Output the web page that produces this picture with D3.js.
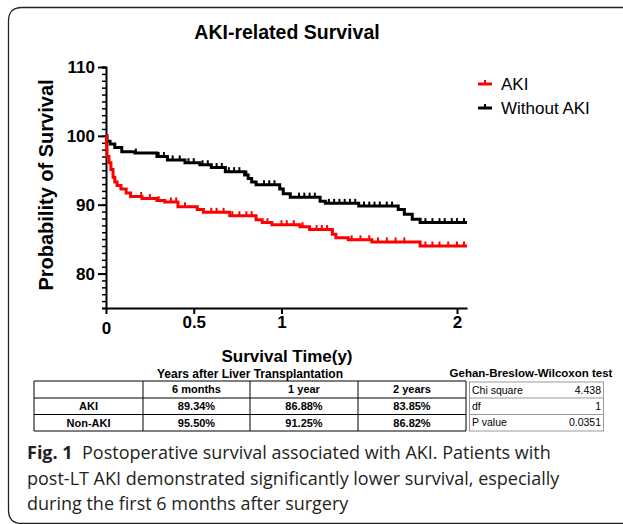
<!DOCTYPE html>
<html lang="en">
<head>
<meta charset="UTF-8">
<title>AKI-related Survival</title>
<script src="https://d3js.org/d3.v7.min.js"></script>
<style>
  body { margin: 0; background: #fff; }
  svg text { font-family: "Liberation Sans", Arial, sans-serif; }
</style>
</head>
<body>
<svg id="main" width="623" height="524"></svg>
<script>
// Kaplan-Meier steps: [years, % surviving]
let akiSteps = [[0,100],[0.003,98.5],[0.006,97],[0.017,96.1],[0.028,95.1],[0.04,94],[0.05,93.3],[0.063,92.8],
  [0.085,92.3],[0.115,91.7],[0.14,91.2],[0.205,90.9],[0.29,90.6],[0.335,90.4],[0.41,89.7],[0.52,89.3],
  [0.555,88.9],[0.705,88.4],[0.855,87.8],[0.89,87.4],[0.945,87.1],[1.105,86.8],[1.16,86.4],[1.29,85.7],
  [1.31,85.2],[1.38,84.9],[1.515,84.6],[1.79,84],[2.057,84]];
let nonAkiSteps = [[0,100],[0.006,99.2],[0.023,98.8],[0.05,98.3],[0.09,97.7],[0.165,97.5],[0.29,97],[0.35,96.5],
  [0.45,96.1],[0.535,95.8],[0.6,95.4],[0.68,94.8],[0.79,94.3],[0.81,93.8],[0.83,93.3],[0.855,92.9],[0.99,92.3],
  [1.01,91.6],[1.05,91.1],[1.22,90.5],[1.25,90.2],[1.44,89.8],[1.665,89.3],[1.7,88.6],[1.745,87.9],[1.79,87.4],[2.057,87.4]];
// censored observations (tick marks)
let akiCensor = [0.2,0.25,0.3,0.37,0.4,0.45,0.6,0.63,0.67,0.72,0.76,0.8,0.83,0.92,1.0,1.03,1.07,1.12,1.2,1.23,
  1.26,1.4,1.45,1.5,1.55,1.6,1.65,1.7,1.82,1.86,1.9,1.95,2.0,2.04];
let nonAkiCensor = [0.17,0.3,0.33,0.38,0.42,0.47,0.5,0.55,0.58,0.63,0.66,0.7,0.73,0.76,0.8,0.9,0.93,0.96,1.1,1.13,
  1.16,1.19,1.27,1.3,1.33,1.36,1.39,1.42,1.47,1.5,1.53,1.56,1.6,1.63,1.82,1.86,1.9,1.93,1.97,2.0,2.04];

let groupNames = ['AKI', 'Without AKI'];
let groupColors = ['#ff0000', '#000000'];
let yMajorTicks = [80, 90, 100, 110];
let xTicks = [0, 0.5, 1, 2];

let tableCols = ['', '6 months', '1 year', '2 years'];
let tableRows = [['AKI', '89.34%', '86.88%', '83.85%'], ['Non-AKI', '95.50%', '91.25%', '86.82%']];
let statLabels = ['Chi square', 'df', 'P value'];
let statValues = ['4.438', '1', '0.0351'];

let svg = d3.select('#main');

// figure frame
svg.append('path')
  .attr('d', 'M623,7.5 L22,7.5 Q8.5,7.5 8.5,21 L8.5,510 Q8.5,523.5 22,523.5 L623,523.5')
  .attr('fill', 'none').attr('stroke', '#222').attr('stroke-width', 1.3);

let x = d3.scaleLinear().domain([0, 2.057]).range([106, 467]);
let y = d3.scaleLinear().domain([75, 110]).range([308, 67]);

svg.append('text').attr('x', 287).attr('y', 39).attr('text-anchor', 'middle')
  .style('font-size', '19.5px').style('font-weight', 'bold').text('AKI-related Survival');

// y axis: minor then major ticks
let yMinor = svg.append('g').attr('transform', 'translate(106,0)')
  .call(d3.axisLeft(y).tickValues(d3.range(75, 111)).tickSize(4).tickFormat(''));
yMinor.select('.domain').attr('stroke-width', 2);
yMinor.selectAll('.tick line').attr('stroke-width', 1.5);
let yAxis = svg.append('g').attr('transform', 'translate(106,0)')
  .call(d3.axisLeft(y).tickValues(yMajorTicks).tickSize(8).tickPadding(3).tickSizeOuter(0));
yAxis.select('.domain').remove();
yAxis.selectAll('.tick line').attr('stroke-width', 2);
yAxis.selectAll('text').style('font-size', '17px').style('font-weight', 'bold').attr('fill', '#000');

let xAxis = svg.append('g').attr('transform', 'translate(0,308)')
  .call(d3.axisBottom(x).tickValues(xTicks).tickSize(6).tickPadding(2).tickSizeOuter(0).tickFormat(d3.format('')));
xAxis.select('.domain').attr('stroke-width', 2);
xAxis.selectAll('.tick line').attr('stroke-width', 2);
xAxis.selectAll('text').style('font-size', '17px').style('font-weight', 'bold').attr('fill', '#000')
  .attr('y', function(d){ return d === 0 ? 14 : 8; });

svg.append('text').attr('x', 287).attr('y', 362).attr('text-anchor', 'middle')
  .style('font-size', '17px').style('font-weight', 'bold').text('Survival Time(y)');
svg.append('text').attr('transform', 'translate(53,185) rotate(-90)').attr('text-anchor', 'middle')
  .style('font-size', '20px').style('font-weight', 'bold').text('Probability of Survival');

// curves
let line = d3.line().curve(d3.curveStepAfter)
  .x(function(d){ return x(d[0]); }).y(function(d){ return y(d[1]); });
function survAt(steps, t) {
  let v = steps[0][1];
  steps.forEach(function(s){ if (s[0] <= t) v = s[1]; });
  return v;
}
let series = [{steps: akiSteps, censor: akiCensor}, {steps: nonAkiSteps, censor: nonAkiCensor}];
series.slice().reverse().forEach(function(s, k){
  let i = series.length - 1 - k;
  let g = svg.append('g');
  g.append('path').datum(s.steps).attr('d', line)
    .attr('fill', 'none').attr('stroke', groupColors[i]).attr('stroke-width', 3);
  g.selectAll('line').data(s.censor).enter().append('line')
    .attr('x1', function(d){ return x(d); }).attr('x2', function(d){ return x(d); })
    .attr('y1', function(d){ return y(survAt(s.steps, d)); })
    .attr('y2', function(d){ return y(survAt(s.steps, d)) - 4.5; })
    .attr('stroke', groupColors[i]).attr('stroke-width', 2);
});

// legend
let legend = svg.selectAll('.legend').data(groupNames).enter().append('g')
  .attr('transform', function(d, i){ return 'translate(478,' + (84 + i * 24) + ')'; });
legend.append('line').attr('x1', 0).attr('x2', 14).attr('stroke-width', 3)
  .attr('stroke', function(d, i){ return groupColors[i]; });
legend.append('line').attr('x1', 7).attr('x2', 7).attr('y1', 0).attr('y2', -4).attr('stroke-width', 2)
  .attr('stroke', function(d, i){ return groupColors[i]; });
legend.append('text').attr('x', 23).attr('dy', '0.35em').style('font-size', '17px').text(function(d){ return d; });

// survival table
svg.append('text').attr('x', 250).attr('y', 378).attr('text-anchor', 'middle')
  .style('font-size', '12px').style('font-weight', 'bold').text('Years after Liver Transplantation');
let colX = [34, 143, 250, 358, 466];
let rowY = [381, 398, 414.5, 431];
let tbl = svg.append('g').attr('stroke', '#000').attr('stroke-width', 1);
colX.forEach(function(cx){ tbl.append('line').attr('x1', cx).attr('x2', cx).attr('y1', rowY[0]).attr('y2', rowY[3]); });
rowY.forEach(function(ry){ tbl.append('line').attr('x1', colX[0]).attr('x2', colX[4]).attr('y1', ry).attr('y2', ry); });
let allRows = [tableCols].concat(tableRows);
allRows.forEach(function(r, ri){
  r.forEach(function(c, ci){
    svg.append('text').attr('x', (colX[ci] + colX[ci + 1]) / 2).attr('y', (rowY[ri] + rowY[ri + 1]) / 2)
      .attr('dy', '0.35em').attr('text-anchor', 'middle')
      .style('font-size', '11px').style('font-weight', 'bold').text(c);
  });
});

// test statistics
svg.append('text').attr('x', 531).attr('y', 377).attr('text-anchor', 'middle')
  .style('font-size', '11.5px').style('font-weight', 'bold').text('Gehan-Breslow-Wilcoxon test');
let sRowY = [382, 398, 414.5, 431];
let st = svg.append('g').attr('stroke', '#999').attr('stroke-width', 1);
st.append('rect').attr('x', 469.5).attr('y', sRowY[0]).attr('width', 134).attr('height', sRowY[3] - sRowY[0]).attr('fill', 'none');
[1, 2].forEach(function(k){ st.append('line').attr('x1', 469.5).attr('x2', 603.5).attr('y1', sRowY[k]).attr('y2', sRowY[k]); });
statLabels.forEach(function(l, i){
  let cy = (sRowY[i] + sRowY[i + 1]) / 2;
  svg.append('text').attr('x', 472).attr('y', cy).attr('dy', '0.35em').style('font-size', '10.5px').text(l);
  svg.append('text').attr('x', 601).attr('y', cy).attr('dy', '0.35em').attr('text-anchor', 'end')
    .style('font-size', '10.5px').text(statValues[i]);
});

// caption
let captionLines = [
  [['Fig. 1', true], ['  Postoperative survival associated with AKI. Patients with', false]],
  [['post-LT AKI demonstrated significantly lower survival, especially', false]],
  [['during the first 6 months after surgery', false]]
];
captionLines.forEach(function(ln, i){
  let t = svg.append('text').attr('x', 27).attr('y', 459 + i * 25.5)
    .style('font-family', '"Open Sans", "Noto Sans", sans-serif').style('font-size', '18px')
    .attr('fill', '#231f20').attr('xml:space', 'preserve');
  ln.forEach(function(p){
    t.append('tspan').style('font-weight', p[1] ? 'bold' : 'normal').text(p[0]);
  });
});
</script>
</body>
</html>
